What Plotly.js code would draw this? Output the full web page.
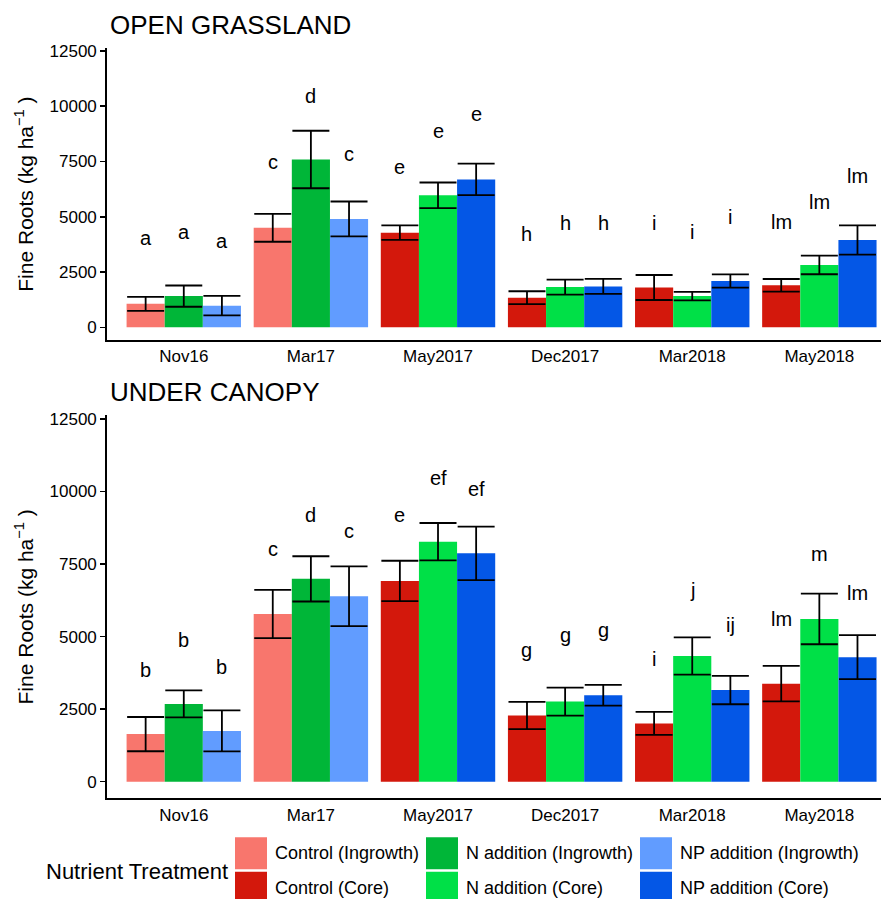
<!DOCTYPE html>
<html>
<head>
<meta charset="utf-8">
<script src="https://cdn.plot.ly/plotly-3.0.1.min.js"></script>
<style>html,body{margin:0;padding:0;background:#fff;}#chart{width:881px;height:899px;}</style>
</head>
<body>
<div id="chart"></div>
<script>
// ---------- data ----------
const categories = ['Nov16', 'Mar17', 'May2017', 'Dec2017', 'Mar2018', 'May2018'];
const method = ['Ingrowth', 'Ingrowth', 'Core', 'Core', 'Core', 'Core'];
const treatments = ['Control', 'N addition', 'NP addition'];
const panelTitles = ['OPEN GRASSLAND', 'UNDER CANOPY'];
const yTicks = [0, 2500, 5000, 7500, 10000, 12500];

// OPEN GRASSLAND
const openControl = [1060, 4500, 4280, 1340, 1800, 1900];
const openControlSE = [320, 630, 330, 290, 565, 285];
const openN = [1410, 7590, 5970, 1820, 1410, 2820];
const openNSE = [480, 1300, 580, 340, 195, 420];
const openNP = [980, 4900, 6690, 1850, 2090, 3950];
const openNPSE = [440, 790, 710, 340, 300, 660];
const openControlLetters = ['a', 'c', 'e', 'h', 'i', 'lm'];
const openNLetters = ['a', 'd', 'e', 'h', 'i', 'lm'];
const openNPLetters = ['a', 'c', 'e', 'h', 'i', 'lm'];
const openControlLetterY = [3930, 7380, 7140, 4140, 4610, 4680];
const openNLetterY = [4230, 10360, 8810, 4610, 4230, 5600];
const openNPLetterY = [3820, 7755, 9560, 4610, 4910, 6750];

// UNDER CANOPY
const canopyControl = [1640, 5780, 6920, 2280, 2010, 3380];
const canopyControlSE = [590, 830, 695, 470, 396, 610];
const canopyN = [2680, 6990, 8270, 2760, 4330, 5610];
const canopyNSE = [465, 780, 645, 483, 643, 873];
const canopyNP = [1750, 6390, 7870, 2980, 3160, 4290];
const canopyNPSE = [705, 1030, 920, 356, 490, 758];
const canopyControlLetters = ['b', 'c', 'e', 'g', 'i', 'lm'];
const canopyNLetters = ['b', 'd', 'ef', 'g', 'j', 'm'];
const canopyNPLetters = ['b', 'c', 'ef', 'g', 'ij', 'lm'];
const canopyControlLetterY = [3770, 7960, 9110, 4480, 4160, 5550];
const canopyNLetterY = [4800, 9110, 10400, 4975, 6550, 7790];
const canopyNPLetterY = [3885, 8580, 10010, 5170, 5340, 6430];

// colours per treatment and method
const colors = {
  'Control': {Ingrowth: '#F8766D', Core: '#D3180C'},
  'N addition': {Ingrowth: '#00B638', Core: '#00E047'},
  'NP addition': {Ingrowth: '#619CFF', Core: '#0457E6'}
};

// ---------- build ----------
const FONT = 'Liberation Sans, Arial, sans-serif';
const W = 881, H = 899;
const ML = 107, MR = 0, MT = 0, MB = 0;
const pw = W - ML - MR, ph = H - MT - MB;
const px2x = p => (p - ML) / pw;
const py2y = p => (H - MB - p) / ph;

const panels = [
  {xa: 'x', ya: 'y', vals: [openControl, openN, openNP], se: [openControlSE, openNSE, openNPSE],
   letters: [openControlLetters, openNLetters, openNPLetters], ly: [openControlLetterY, openNLetterY, openNPLetterY]},
  {xa: 'x2', ya: 'y2', vals: [canopyControl, canopyN, canopyNP], se: [canopyControlSE, canopyNSE, canopyNPSE],
   letters: [canopyControlLetters, canopyNLetters, canopyNPLetters], ly: [canopyControlLetterY, canopyNLetterY, canopyNPLetterY]}
];

const traces = [];
const annotations = [];
const offsets = [-0.3, 0, 0.3];
panels.forEach((p, pi) => {
  treatments.forEach((t, ti) => {
    traces.push({
      type: 'bar', x: categories, y: p.vals[ti], name: t,
      xaxis: p.xa, yaxis: p.ya,
      marker: {color: method.map(m => colors[t][m]), line: {width: 0}},
      error_y: {type: 'data', array: p.se[ti], visible: true, color: '#000', thickness: 1.8, width: 18.5},
      showlegend: false, hoverinfo: 'x+y'
    });
    p.letters[ti].forEach((L, ci) => {
      annotations.push({
        xref: p.xa, yref: p.ya, x: ci + offsets[ti], y: p.ly[ti][ci],
        text: L, showarrow: false, xanchor: 'center', yanchor: 'middle', yshift: 2,
        font: {family: FONT, size: 20, color: '#000'}
      });
    });
  });
});

// panel titles
const titleY = [25, 392];
panelTitles.forEach((t, i) => {
  annotations.push({xref: 'paper', yref: 'paper', x: px2x(108), y: py2y(titleY[i]), xanchor: 'left', yanchor: 'middle',
    text: t, showarrow: false, font: {family: FONT, size: 26, color: '#000'}});
});

// legend (manual, 3 columns x 2 rows)
const shapes = [];
const colLeft = [235, 426, 640];
const rowTop = [837.3, 871.7];
const methodsOrder = ['Ingrowth', 'Core'];
annotations.push({xref: 'paper', yref: 'paper', x: px2x(44), y: py2y(871.7), xanchor: 'left', yanchor: 'middle',
  text: 'Nutrient Treatment', showarrow: false, font: {family: FONT, size: 22, color: '#000'}});
treatments.forEach((t, ti) => {
  methodsOrder.forEach((m, mi) => {
    shapes.push({type: 'rect', xref: 'paper', yref: 'paper',
      x0: px2x(colLeft[ti]), x1: px2x(colLeft[ti] + 32), y0: py2y(rowTop[mi] + 32), y1: py2y(rowTop[mi]),
      fillcolor: colors[t][m], line: {width: 0}});
    annotations.push({xref: 'paper', yref: 'paper', x: px2x(colLeft[ti] + 38), y: py2y(rowTop[mi] + 16), xanchor: 'left', yanchor: 'middle',
      text: t + ' (' + m + ')', showarrow: false, font: {family: FONT, size: 18, color: '#000'}});
  });
});

const yRange = [-575, 12630];
const xRange = [-0.604, 5.485];
function xAxis(anchor) {
  return {anchor: anchor, domain: [0, 1], type: 'category', range: xRange, showline: true, linecolor: '#000', linewidth: 1.8,
    ticks: '', showgrid: false, zeroline: false, tickfont: {family: FONT, size: 17, color: '#000'}, fixedrange: true};
}
function yAxis(anchor, domain) {
  return {anchor: anchor, domain: domain, range: yRange, tickvals: yTicks, ticktext: yTicks.map(String),
    showline: true, linecolor: '#000', linewidth: 1.8, ticks: 'outside', ticklen: 5, tickwidth: 1.5, tickcolor: '#000',
    showgrid: false, zeroline: false, tickfont: {family: FONT, size: 17, color: '#000'}, fixedrange: true,
    title: {text: 'Fine Roots (kg ha<sup>−1</sup> )', font: {family: FONT, size: 21, color: '#000'}, standoff: 10}};
}

const layout = {
  width: W, height: H,
  margin: {l: ML, r: MR, t: MT, b: MB},
  paper_bgcolor: '#fff', plot_bgcolor: '#fff',
  font: {family: FONT, color: '#000'},
  barmode: 'group', bargap: 0.1, bargroupgap: 0,
  showlegend: false,
  xaxis: xAxis('y'),
  yaxis: yAxis('x', [py2y(340), py2y(48.1)]),
  xaxis2: xAxis('y2'),
  yaxis2: yAxis('x2', [py2y(798.4), py2y(415.2)]),
  annotations: annotations,
  shapes: shapes
};

Plotly.newPlot('chart', traces, layout, {displayModeBar: false, staticPlot: true});
</script>
</body>
</html>
